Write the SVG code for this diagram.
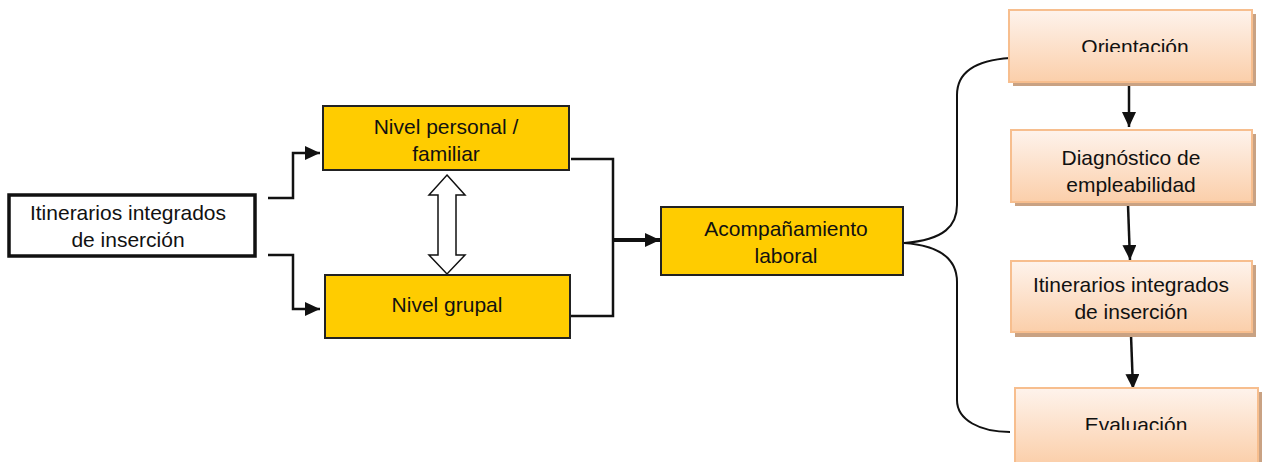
<svg xmlns="http://www.w3.org/2000/svg" width="1262" height="462" viewBox="0 0 1262 462">
<style>
text{font-family:"Liberation Sans",Arial,sans-serif;font-size:21px;fill:#111;text-anchor:middle}
.y{fill:#ffcc00;stroke:#222;stroke-width:2}
.w{fill:#fff;stroke:#111;stroke-width:3.5}
.p{fill:url(#pg);stroke:#f7be8e;stroke-width:2}
.sh{fill:#c9a283}
.ln{fill:none;stroke:#111;stroke-width:2.5}
.cv{fill:none;stroke:#111;stroke-width:2}
</style>
<defs>
<linearGradient id="pg" x1="0" y1="0" x2="0" y2="1">
<stop offset="0" stop-color="#fef3ec"/>
<stop offset="1" stop-color="#fbcfaa"/>
</linearGradient>
<marker id="ah2" markerWidth="15" markerHeight="14" refX="15" refY="7" orient="auto" markerUnits="userSpaceOnUse" viewBox="0 0 15 14">
<path d="M0,0 L15,7 L0,14 z" fill="#111"/>
</marker>
<clipPath id="c1"><rect x="1000" y="0" width="262" height="52"/></clipPath>
<clipPath id="c4"><rect x="1000" y="380" width="262" height="50"/></clipPath>
</defs>

<g id="connectors">
<path class="ln" d="M268,198 H293 V153 H320" marker-end="url(#ah2)"/>
<path class="ln" d="M268,255 H293 V309 H320" marker-end="url(#ah2)"/>
<path class="ln" d="M571,159 H613 V316 H571"/>
<path d="M613,240 H660" fill="none" stroke="#111" stroke-width="4" marker-end="url(#ah2)"/>
<path d="M447,175 L465,195 L456,195 L456,255 L465,255 L447,274 L429,255 L438,255 L438,195 L429,195 Z" fill="#fff" stroke="#111" stroke-width="1.5"/>
<path class="cv" d="M904,243 C945,240 957,225 957,205 V95 C957,70 980,60 1010,58"/>
<path class="cv" d="M904,243 C945,246 957,262 957,282 V400 C957,420 980,432 1010,432"/>
<path class="ln" d="M1129,84 V127" marker-end="url(#ah2)"/>
<path class="ln" d="M1128,205 L1130,260" marker-end="url(#ah2)"/>
<path class="ln" d="M1131,335 L1133,389" marker-end="url(#ah2)"/>
</g>

<g id="n-itinerarios-left">
<rect class="w" x="9" y="195" width="246" height="61"/>
<text x="128" y="220">Itinerarios integrados</text>
<text x="128" y="247">de inserción</text>
</g>

<g id="n-personal">
<rect class="y" x="323" y="106" width="246" height="64"/>
<text x="446" y="134">Nivel personal /</text>
<text x="446" y="161">familiar</text>
</g>

<g id="n-grupal">
<rect class="y" x="325" y="275" width="245" height="63"/>
<text x="447" y="312">Nivel grupal</text>
</g>

<g id="n-acompanamiento">
<rect class="y" x="661" y="207" width="242" height="68"/>
<text x="786" y="236">Acompañamiento</text>
<text x="786" y="263">laboral</text>
</g>

<g id="n-orientacion">
<rect class="sh" x="1013" y="14" width="243" height="72"/>
<rect class="p" x="1009" y="10" width="243" height="72"/>
<text x="1135" y="54" clip-path="url(#c1)">Orientación</text>
</g>

<g id="n-diagnostico">
<rect class="sh" x="1015" y="134" width="241" height="72"/>
<rect class="p" x="1011" y="130" width="241" height="72"/>
<text x="1131" y="165">Diagnóstico de</text>
<text x="1131" y="192">empleabilidad</text>
</g>

<g id="n-itinerarios-right">
<rect class="sh" x="1015" y="265" width="241" height="72"/>
<rect class="p" x="1011" y="261" width="241" height="71"/>
<text x="1131" y="292">Itinerarios integrados</text>
<text x="1131" y="319">de inserción</text>
</g>

<g id="n-evaluacion">
<rect class="sh" x="1019" y="392" width="243" height="74"/>
<rect class="p" x="1015" y="388" width="243" height="76"/>
<text x="1136" y="432" clip-path="url(#c4)">Evaluación</text>
</g>
</svg>
